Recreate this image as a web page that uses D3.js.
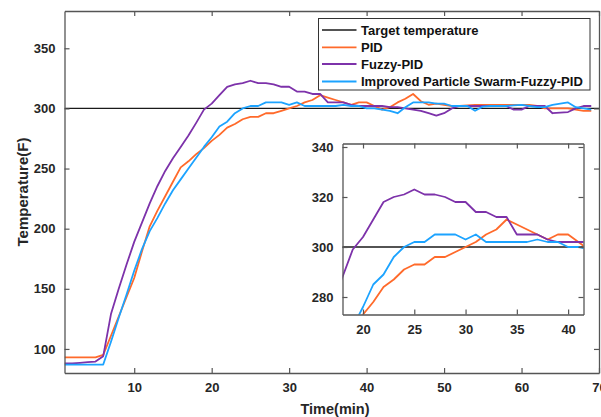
<!DOCTYPE html>
<html><head><meta charset="utf-8">
<script src="https://cdn.jsdelivr.net/npm/d3@7/dist/d3.min.js"></script>
<style>
html,body{margin:0;padding:0;background:#fff;}
svg{display:block;font-family:"Liberation Sans",Arial,sans-serif;font-weight:bold;}
</style></head>
<body><svg id="chart" width="601" height="417"></svg>
<script>
const time = d3.range(1, 70);
const target = [[1,300],[70,300]];
const pid = [93,93,93,93,93,95,111,127,143,159,181,202,215,227,239,251,256,262,267,273,278,284,287,291,293,293,296,296,298,300,302,305,307,311,309,307,305,303,305,305,302,299,301,305,308,312,306,303,304,303,302,302,302.5,303,303,303,303,303,303,303,303,302,300,300,300,300,299,298,298];
const fuzzy = [88,88,88.5,89,89.5,94,129,150,170,189,205,221,235.5,248,258.5,268,277.5,288,299,304,311,318,320,321,323,321,321,320,318,318,314,314,312,312,305,305,305,303,302,302,302,302,301,301,300,299,298,296,294,296,300,302,302,302,302,302,302,302,299,299,302,302,302,296,296.5,297,300,302,302];
const improved = [87,87,87,87,87,87,106,126,145,165,183,198,209,221,232,241,250,259,268,276,285,289,296,300,302,302,305,305,305,303,305,302,302,302,302,302,303,302,302,300,300,299,298,296,301,305,305,305,304,304,302,302,302,298,301.5,302,302,302,302.5,303,302,301,301,303,304,305,301,300,299];
const seriesNames = ["Target temperature","PID","Fuzzy-PID","Improved Particle Swarm-Fuzzy-PID"];
const colors = ["#1a1a1a","#FF6A2B","#7D32AA","#1CA3FF"];
const xTicks = [10,20,30,40,50,60,70];
const yTicks = [100,150,200,250,300,350];
const insetXTicks = [20,25,30,35,40];
const insetYTicks = [280,300,320,340];

const svg = d3.select("#chart");
const axisColor = "#555";
const textColor = "#262626";

const series = [
  target,
  time.map((t,i)=>[t,pid[i]]),
  time.map((t,i)=>[t,fuzzy[i]]),
  time.map((t,i)=>[t,improved[i]])
];

function drawAxes(g, x, y, xt, yt, fontSize) {
  const [x0,x1] = x.range(), [y0,y1] = y.range();
  const bottom = g.append("g").attr("transform",`translate(0,${y0})`)
    .call(d3.axisBottom(x).tickValues(xt).tickSize(-5).tickSizeOuter(0).tickPadding(10));
  const top = g.append("g").attr("transform",`translate(0,${y1})`)
    .call(d3.axisTop(x).tickValues(xt).tickSize(-5).tickSizeOuter(0).tickFormat(""));
  const left = g.append("g").attr("transform",`translate(${x0},0)`)
    .call(d3.axisLeft(y).tickValues(yt).tickSize(-5).tickSizeOuter(0).tickPadding(9));
  const right = g.append("g").attr("transform",`translate(${x1},0)`)
    .call(d3.axisRight(y).tickValues(yt).tickSize(-5).tickSizeOuter(0).tickFormat(""));
  [bottom,top,left,right].forEach(a=>{
    a.select(".domain").attr("stroke",axisColor).attr("stroke-width",1.3);
    a.selectAll(".tick line").attr("stroke",axisColor).attr("stroke-width",1.2);
    a.selectAll(".tick text").attr("fill",textColor).style("font-size",fontSize+"px")
      .style("font-family","'Liberation Sans',Arial,sans-serif").style("font-weight","bold");
  });
}

function drawLines(g, x, y, clipId) {
  const line = d3.line().x(d=>x(d[0])).y(d=>y(d[1]));
  const lg = g.append("g").attr("clip-path",`url(#${clipId})`);
  series.forEach((s,i)=>{
    lg.append("path").datum(s).attr("d",line).attr("fill","none")
      .attr("stroke",colors[i]).attr("stroke-width", i===0?1.4:1.8)
      .attr("stroke-linejoin","round");
  });
}

// main chart
const x = d3.scaleLinear().domain([1,70]).range([64.5,599]);
const y = d3.scaleLinear().domain([80,381]).range([373,11]);
const defs = svg.append("defs");
defs.append("clipPath").attr("id","clipMain").append("rect")
  .attr("x",64.5).attr("y",11).attr("width",599-64.5).attr("height",373-11);

const main = svg.append("g");
drawLines(main, x, y, "clipMain");
drawAxes(main, x, y, xTicks, yTicks, 13);

// axis titles
svg.append("text").attr("x",335).attr("y",414).attr("text-anchor","middle")
  .attr("fill",textColor).style("font-size","14.5px").text("Time(min)");
svg.append("text").attr("transform","translate(28,192) rotate(-90)").attr("text-anchor","middle")
  .attr("fill",textColor).style("font-size","15px").text("Temperature(F)");

// legend
const leg = svg.append("g");
leg.append("rect").attr("x",318.5).attr("y",18.5).attr("width",271.5).attr("height",71.5)
  .attr("fill","#fff").attr("stroke","#333").attr("stroke-width",1);
const legY = [30,47.3,64,81.5];
seriesNames.forEach((n,i)=>{
  leg.append("line").attr("x1",322).attr("x2",356.5).attr("y1",legY[i]).attr("y2",legY[i])
    .attr("stroke",colors[i]).attr("stroke-width",i===0?1.4:1.8);
  leg.append("text").attr("x",361).attr("y",legY[i]+4.5).attr("fill","#111")
    .style("font-size","13px").text(n);
});

// inset
const xi = d3.scaleLinear().domain([18,41.5]).range([342.5,583.5]);
const yi = d3.scaleLinear().domain([273,341.4]).range([314.5,143.5]);
svg.append("rect").attr("x",342.5).attr("y",143.5).attr("width",241).attr("height",171)
  .attr("fill","#fff");
defs.append("clipPath").attr("id","clipInset").append("rect")
  .attr("x",342.5).attr("y",143.5).attr("width",241).attr("height",171);
const inset = svg.append("g");
drawLines(inset, xi, yi, "clipInset");
drawAxes(inset, xi, yi, insetXTicks, insetYTicks, 13);
</script></body></html>
